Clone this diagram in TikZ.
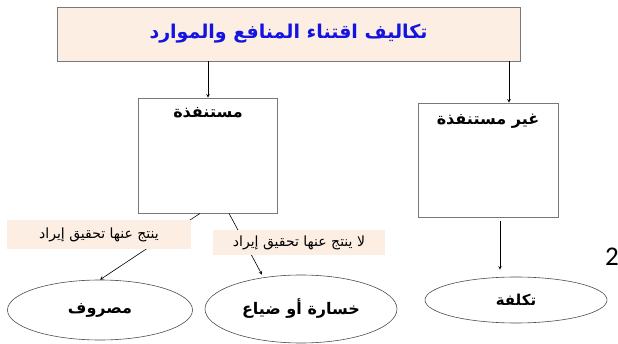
\documentclass[tikz,border=0pt]{standalone}
\usepackage{fontspec}
\usetikzlibrary{shapes.geometric}
\newfontfamily\arabicfont[Script=Arabic]{DejaVu Sans}
\newfontfamily\numfont{Carlito}
\TeXXeTstate=1
\definecolor{peach}{RGB}{253,238,228}
\definecolor{titleblue}{RGB}{20,20,225}
\definecolor{boxgray}{RGB}{120,120,120}
\tikzset{
  head/.style={draw=boxgray, fill=peach, minimum width=463pt, minimum height=54pt, line width=0.8pt},
  kind/.style={draw=boxgray, minimum width=139pt, minimum height=115pt, line width=0.8pt},
  result/.style={draw=black!70, ellipse, line width=0.6pt},
  note/.style={fill=peach, inner sep=0pt},
  arr/.style={->, >=stealth, line width=0.6pt},
}
\begin{document}
\begin{tikzpicture}[x=1pt, y=-1pt]
\useasboundingbox (0,0) rectangle (618,344);
\node[head] (title) at (288.5,34) {};
\node[text=titleblue] at (title) {\arabicfont\bfseries\fontsize{19}{22}\selectfont\beginR تكاليف اقتناء المنافع والموارد\endR};
\node[kind] (used) at (208,155.5) {};
\node at ([yshift=-15pt]used.north) {\arabicfont\bfseries\fontsize{16}{19}\selectfont\beginR مستنفذة\endR};
\node[kind, minimum width=140pt, minimum height=114pt] (unused) at (488,160) {};
\node at ([yshift=-19pt]unused.north) {\arabicfont\bfseries\fontsize{16}{19}\selectfont\beginR غير مستنفذة\endR};
\node[result, minimum width=185pt, minimum height=60pt] (expense) at (100,310) {\arabicfont\bfseries\fontsize{16}{19}\selectfont\beginR مصروف\endR};
\node[result, minimum width=192pt, minimum height=68pt] (loss) at (301,309) {\arabicfont\bfseries\fontsize{16}{19}\selectfont\beginR خسارة أو ضياع\endR};
\node[result, minimum width=182pt, minimum height=46pt] (cost) at (516,300) {\arabicfont\bfseries\fontsize{15}{18}\selectfont\beginR تكلفة\endR};
\node[font=\numfont\fontsize{27}{30}\selectfont] (num) at (612,257) {2};

\draw[arr] (title.south -| used.north) -- (used.north);
\draw[arr] ([xshift=21pt]title.south -| unused.north) -- ([xshift=21pt]unused.north);
\draw[arr, shorten <=4pt, shorten >=7pt] ([xshift=12pt]unused.south) -- ([xshift=12pt]unused.south |- cost.north);
\draw[arr] ([xshift=-8pt]used.south) -- (expense.north);
\draw[arr] ([xshift=21pt]used.south) -- ([xshift=-39pt]loss.north);

\node[note, minimum width=184pt, minimum height=29pt] (yes) at (99,234.5) {\arabicfont\fontsize{14}{17}\selectfont\beginR ينتج عنها تحقيق إيراد\endR};
\node[note, minimum width=172pt, minimum height=25pt] (no) at (299,242.5) {\arabicfont\fontsize{14}{17}\selectfont\beginR لا ينتج عنها تحقيق إيراد\endR};
\end{tikzpicture}
\end{document}
